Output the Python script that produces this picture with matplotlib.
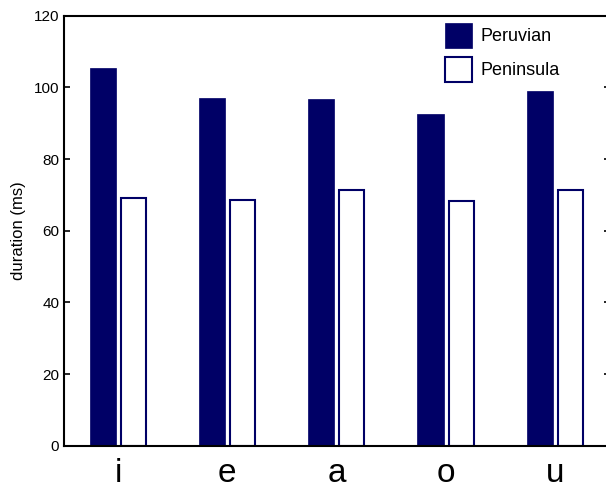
import matplotlib
matplotlib.use("Agg")
import matplotlib.pyplot as plt
import numpy as np

plt.rcParams['font.family'] = ['Liberation Sans', 'DejaVu Sans']

categories = ['i', 'e', 'a', 'o', 'u']
peruvian = [105.5, 97.0, 96.8, 92.6, 98.9]
peninsula = [69.0, 68.5, 71.4, 68.2, 71.4]
yticks = [0, 20, 40, 60, 80, 100, 120]

navy = '#000066'

fig = plt.figure(figsize=(6.06, 4.86), dpi=100)
ax = fig.add_axes([0.1048, 0.0829, 0.9012, 0.8848])

x = np.arange(1, len(categories) + 1)
w = 0.24
off = 0.14
ax.bar(x - off, peruvian, width=w, color=navy, edgecolor=navy, linewidth=0.5, label='Peruvian')
ax.bar(x + off, peninsula, width=w - 0.012, color='white', edgecolor=navy, linewidth=1.5, label='Peninsula')

ax.set_xlim(0.5, 5.5)
ax.set_ylim(0, 120)
ax.set_yticks(yticks)
ax.set_xticks(x)
ax.set_xticklabels(categories, fontsize=24)
ax.tick_params(axis='x', length=0, pad=9)
ax.tick_params(axis='y', direction='in', length=4, width=1.2, right=True, labelsize=11, pad=3)
for s in ax.spines.values():
    s.set_linewidth(1.5)
ax.set_ylabel('duration (ms)', fontsize=12, labelpad=6)

fs = 13
leg = ax.legend(loc='upper left', bbox_to_anchor=(445 / 606, 1 - 23 / 486),
                bbox_transform=fig.transFigure, frameon=False, fontsize=fs,
                handlelength=1.5, handleheight=1.75, labelspacing=0.5, handletextpad=0.45,
                borderaxespad=0, borderpad=0)

fig.savefig('out.png', dpi=100)
